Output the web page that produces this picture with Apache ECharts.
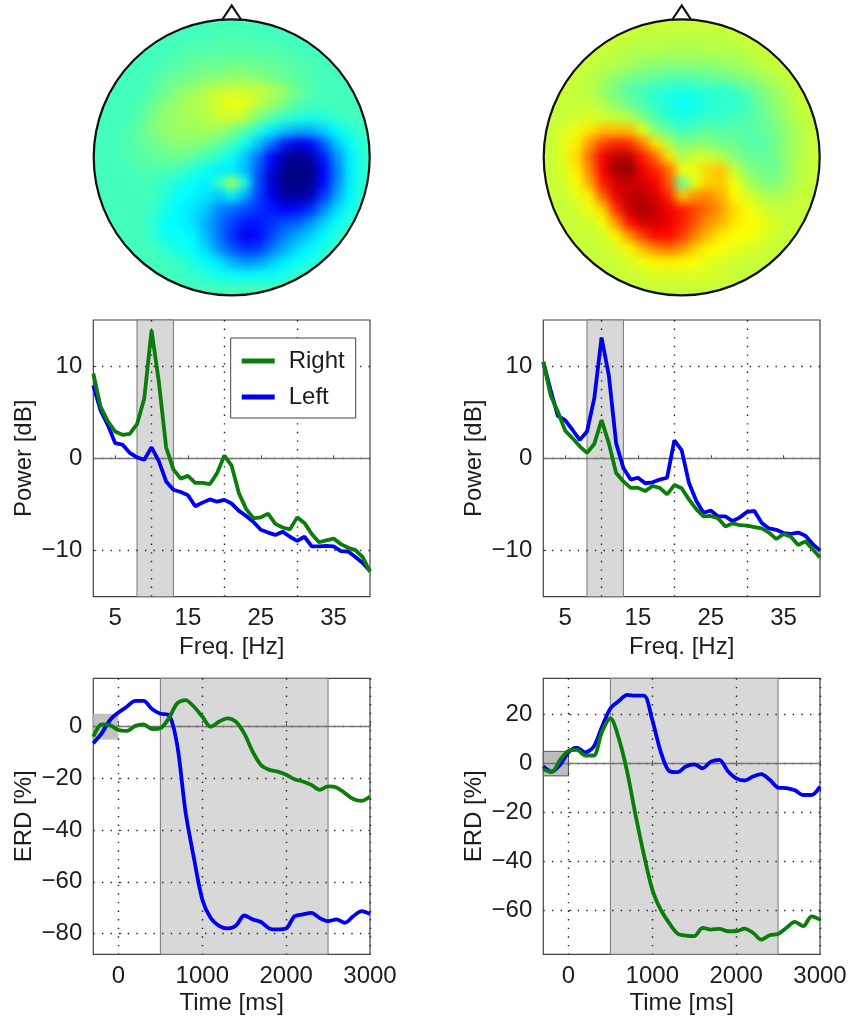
<!DOCTYPE html>
<html><head><meta charset="utf-8">
<style>
html,body{margin:0;padding:0;background:#fff;width:848px;height:1017px;overflow:hidden}
#main{position:absolute;left:0;top:0;width:848px;height:1017px;z-index:2}
.clip{position:absolute;z-index:1}
.heat{position:absolute;left:0;top:0;width:100%;height:100%;filter:blur(5px)}
</style>
<script src="https://cdn.jsdelivr.net/npm/echarts@6/dist/echarts.min.js"></script>
</head><body>
<div class="clip" id="clipL"><div class="heat" id="heatL"></div></div>
<div class="clip" id="clipR"><div class="heat" id="heatR"></div></div>
<div id="main"></div>
<script>
// ---------- data ----------
const freqs = [2,3,4,5,6,7,8,9,10,11,12,13,14,15,16,17,18,19,20,21,22,23,24,25,26,27,28,29,30,31,32,33,34,35,36,37,38,39,40];
const psdLeftRight = [9.2,5.6,4.0,2.9,2.55,2.65,3.7,6.5,13.9,8.3,1.2,-1.2,-2.2,-1.9,-2.65,-2.65,-2.8,-1.6,0.3,-0.8,-3.8,-5.5,-6.5,-6.4,-6.0,-7.1,-7.5,-7.7,-6.4,-7.0,-8.2,-9.1,-8.9,-8.7,-9.3,-9.7,-9.95,-10.7,-12.3];
const psdLeftLeft = [7.9,5.2,3.6,1.65,1.5,0.6,0.1,-0.15,1.2,-0.3,-2.5,-3.4,-3.65,-4.0,-5.2,-4.8,-4.45,-4.7,-4.5,-4.9,-5.7,-6.25,-6.9,-7.75,-8.05,-8.3,-7.95,-8.5,-8.95,-8.5,-9.55,-9.55,-9.5,-9.55,-10.05,-10.1,-10.7,-11.35,-12.2];
const psdRightLeft = [10.45,7.4,4.6,4.15,3.1,2.0,2.9,6.5,13.1,9.0,1.65,-1.05,-2.3,-2.1,-2.7,-2.6,-2.3,-2.1,1.95,0.9,-2.65,-4.6,-5.9,-5.65,-6.3,-6.3,-6.8,-6.4,-5.8,-5.7,-7.0,-7.6,-7.75,-8.1,-8.2,-8.05,-8.4,-9.3,-10.0];
const psdRightRight = [10.45,6.85,5.05,3.0,2.2,1.3,0.6,1.55,4.15,1.65,-1.6,-2.5,-3.2,-3.2,-3.55,-3.0,-3.2,-3.9,-2.9,-3.25,-4.45,-5.5,-6.3,-6.25,-6.5,-7.4,-7.05,-7.25,-7.3,-7.45,-7.6,-8.05,-8.75,-8.2,-8.5,-9.4,-9.0,-9.85,-10.75];

const times = [-300,-200,-100,0,100,200,300,400,500,600,700,800,900,1000,1100,1200,1300,1400,1500,1600,1700,1800,1900,2000,2100,2200,2300,2400,2500,2600,2700,2800,2900,3000];
const erdLeftLeft = [-6.4,-2.6,2.6,5.5,7.7,10,10,6.8,5,4.5,-7,-33,-50.8,-66.8,-74,-77,-78,-77,-73,-74.5,-75.5,-78,-78.4,-78,-73.3,-72.6,-72,-74,-75.2,-74.5,-75.8,-73.3,-71.3,-72.4];
const erdLeftRight = [-3.9,0.9,0.6,-1.3,-1.6,0.3,0.9,-0.9,-0.6,3.2,9,10.3,7.7,3.9,0,1.9,3.2,1.9,-2.6,-9.6,-14.8,-16.7,-17.4,-18.6,-20.3,-21.2,-22.5,-24.4,-23.1,-23.5,-25.7,-28,-28.7,-27];
const erdRightLeft = [-1.2,-3.3,-0.5,4.6,6.5,4.6,6.9,15,22.5,25.5,28,27.7,27.7,17.8,4.9,-3,-3.5,-1.2,-0.3,-1.9,0.8,1.5,-3,-6,-6.9,-5.3,-4.3,-6.6,-9.8,-10,-10.9,-12.8,-12.8,-9.4];
const erdRightRight = [-2.3,-3.5,1.5,5.2,5.6,3.3,3.3,13,18.5,10.3,-3.3,-20.9,-37.2,-51.4,-59.6,-65,-69.3,-70.2,-70.4,-67,-67.7,-67.4,-68.4,-68.4,-67.3,-69,-71.8,-70,-69.5,-67,-64.6,-66.3,-62.3,-63.6];

const psdBand = [8, 13];
const erdBand = [500, 2500];
const baseBand = [-300, 0, -5, 5];
const psdXLabels = [5,15,25,35];
const psdXGrid = [10,20,30];
const psdYTicks = [-10,0,10];
const erdXTicks = [0,1000,2000,3000];
const erdLeftYTicks = [-80,-60,-40,-20,0];
const erdRightYTicks = [-60,-40,-20,0,20];
const seriesNames = ['Right','Left'];

// scalp maps, 21 x 21 cells, front row first, read on a jet scale of 0-100
const topoLeft = [
[44,44,44,44,44,44,44,44,44,44,44,44,44,44,44,44,44,44,44,44,44],
[44,44,44,44,44,44,44,44,44,45,45,45,44,44,44,44,44,44,44,44,44],
[44,44,44,44,44,44,45,46,46,46,46,46,46,46,45,44,44,44,44,44,44],
[44,44,44,44,44,45,46,47,48,48,49,49,48,47,47,46,45,44,44,44,44],
[44,44,44,44,45,47,48,49,51,51,52,52,51,49,48,46,45,44,44,44,44],
[44,44,44,44,46,48,51,53,55,57,58,58,57,55,52,48,46,44,44,44,44],
[44,44,44,45,48,51,53,55,56,59,61,60,56,53,49,46,44,44,44,44,44],
[44,44,44,46,50,52,53,54,55,57,58,56,50,46,43,41,40,41,43,44,44],
[44,44,45,47,50,52,53,53,54,53,50,46,41,36,32,30,30,33,37,41,43],
[44,44,45,47,48,50,51,51,50,47,44,39,32,24,15,10,13,22,32,38,42],
[44,44,45,46,47,48,48,47,44,42,38,32,24,13,4,1,4,15,27,36,41],
[44,44,44,45,45,45,44,41,39,36,36,31,21,10,1,0,1,12,25,36,41],
[44,44,44,44,44,42,40,38,36,42,54,40,20,8,1,0,2,13,26,36,41],
[44,44,44,44,44,41,38,37,35,32,36,29,19,11,4,3,6,18,29,37,42],
[44,44,44,44,43,39,37,35,32,26,23,20,17,15,12,13,17,26,34,39,43],
[44,44,44,44,42,38,37,35,30,24,19,15,15,17,20,22,27,33,38,42,44],
[44,44,44,44,42,38,38,37,31,24,17,11,13,19,25,29,33,37,41,44,44],
[44,44,44,44,44,42,39,38,34,27,21,17,18,24,29,34,37,40,43,44,44],
[44,44,44,44,44,44,43,40,38,35,30,27,28,32,36,38,40,42,44,44,44],
[44,44,44,44,44,44,44,43,41,39,38,37,38,38,40,42,44,44,44,44,44],
[44,44,44,44,44,44,44,44,44,44,44,44,44,44,44,44,44,44,44,44,44]
];
const topoRight = [
[57,57,57,57,57,57,57,57,57,57,57,57,57,57,57,57,57,57,57,57,57],
[57,57,57,57,57,57,57,56,56,56,56,56,56,56,57,57,57,57,57,57,57],
[57,57,57,57,57,56,55,55,55,54,54,54,55,55,55,56,57,57,57,57,57],
[57,57,57,57,56,55,54,52,51,51,51,51,51,52,53,54,56,57,57,57,57],
[57,57,57,56,54,51,49,48,47,46,45,46,47,48,49,51,53,55,57,57,57],
[57,57,57,56,52,49,46,44,42,41,40,41,42,42,43,46,49,52,55,57,57],
[57,57,57,57,55,51,48,45,42,40,38,39,41,42,42,44,48,51,54,57,57],
[57,57,58,59,58,57,55,50,45,42,40,41,43,43,44,45,47,50,53,56,57],
[57,59,61,65,69,69,69,60,51,47,44,45,47,46,46,46,47,49,52,55,57],
[57,60,64,73,81,84,83,75,65,55,50,51,51,49,48,46,46,48,52,55,57],
[57,60,66,77,89,94,94,85,77,65,54,58,58,55,51,48,47,48,52,55,57],
[57,59,64,75,88,97,98,89,84,77,63,60,67,68,57,51,49,48,52,56,57],
[57,58,62,71,85,92,93,91,88,79,47,60,67,68,61,55,51,50,53,56,57],
[57,57,60,64,78,89,94,94,91,84,68,73,74,70,63,59,56,54,55,57,57],
[57,57,58,61,67,83,93,96,93,89,85,81,77,72,66,62,59,57,57,57,57],
[57,57,57,58,62,73,86,92,92,89,85,79,73,70,65,63,61,59,57,57,57],
[57,57,57,57,58,63,73,82,87,87,82,75,69,64,62,62,60,58,57,57,57],
[57,57,57,57,57,59,63,69,74,76,73,67,63,62,60,59,58,57,57,57,57],
[57,57,57,57,57,57,59,61,63,64,63,62,60,59,58,57,57,57,57,57,57],
[57,57,57,57,57,57,57,58,59,59,59,59,59,58,57,57,57,57,57,57,57],
[57,57,57,57,57,57,57,57,57,57,57,57,57,57,57,57,57,57,57,57,57]
];
const jetColors = ['#00007f','#0000ff','#007fff','#00ffff','#7fff7f','#ffff00','#ff7f00','#ff0000','#7f0000'];
const headX = [-0.07,0,0.07];
const headY = [0.995,1.1,0.995];

// ---------- scalp maps ----------
function drawHeat(id, clipId, rows, cx, bg){
  const R = 138, cy = 157.3, pad = 24;
  const size = 2*R + 2*pad;
  const clip = document.getElementById(clipId);
  clip.style.left = (cx-R-pad)+'px'; clip.style.top = (cy-R-pad)+'px';
  clip.style.width = size+'px'; clip.style.height = size+'px';
  clip.style.clipPath = 'circle('+R+'px at '+(R+pad)+'px '+(R+pad)+'px)';
  const idx = rows.map((_,i)=>i);
  const cells = [];
  rows.forEach((r,j)=>r.forEach((v,i)=>cells.push([i,j,v])));
  const c = echarts.init(document.getElementById(id));
  c.setOption({
    animation:false, backgroundColor:bg,
    grid:{left:pad,top:pad,width:2*R,height:2*R,outerBoundsMode:'none'},
    xAxis:{type:'category',data:idx,show:false},
    yAxis:{type:'category',data:idx,inverse:true,show:false},
    visualMap:{show:false,min:0,max:100,inRange:{color:jetColors},calculable:false},
    series:[{type:'heatmap',data:cells,itemStyle:{borderWidth:0},progressive:0}]
  });
}
drawHeat('heatL','clipL',topoLeft,231.7,'#42ffbd');
drawHeat('heatR','clipR',topoRight,681.7,'#c7ff38');

// ---------- panels ----------
const GREEN='#0a7d0a', BLUE='#0000f0', TXT='#1c1c1c', FS=24, FONT='"Liberation Sans",Arial,sans-serif';
const grids=[], xAxes=[], yAxes=[], series=[];
const fmt = v => String(v).replace('-','\u2212');
const dots = {show:true,lineStyle:{color:'#222',width:1.4,type:[1.4,7.2]}};
function addPanel(o){
  const g = grids.length;
  grids.push({left:o.x,top:o.y,width:276.7,height:o.h,show:true,borderColor:'#444',borderWidth:1.2,backgroundColor:'transparent',outerBoundsMode:'none'});
  const xi = xAxes.length, yi = yAxes.length;
  const xBase = {type:'value',gridIndex:g,min:o.xr[0],max:o.xr[1],z:1.5};
  xAxes.push(Object.assign({},xBase,{
    name:o.xName,nameLocation:'middle',nameGap:o.xNameGap,nameTextStyle:{fontSize:FS,color:TXT,fontFamily:FONT},
    axisLine:{show:false},
    axisTick:{show:true,inside:true,length:3,lineStyle:{color:'#444'},customValues:o.xLabels},
    axisLabel:{customValues:o.xLabels,formatter:fmt,fontSize:FS,color:TXT,fontFamily:FONT,margin:o.xMargin,showMinLabel:true,showMaxLabel:true,hideOverlap:false},
    splitLine:o.xGrid?{show:false}:dots
  }));
  if(o.xGrid){
    xAxes.push(Object.assign({},xBase,{
      axisLine:{show:false},axisLabel:{show:false},
      axisTick:{show:false,customValues:o.xGrid},splitLine:dots
    }));
  }
  yAxes.push({type:'value',gridIndex:g,min:o.yr[0],max:o.yr[1],z:1.5,
    name:o.yName,nameLocation:'middle',nameGap:o.nameGap,nameRotate:90,nameTextStyle:{fontSize:FS,color:TXT,fontFamily:FONT},
    axisLine:{show:false},
    axisTick:{show:true,inside:true,length:3,lineStyle:{color:'#444'},customValues:o.yTicks},
    axisLabel:{customValues:o.yTicks,formatter:fmt,fontSize:FS,color:TXT,fontFamily:FONT,margin:11},
    splitLine:dots
  });
  const areas = [[{xAxis:o.band[0],itemStyle:{color:'#d8d8d8',borderColor:'#777',borderWidth:1}},{xAxis:o.band[1]}]];
  if(o.base) areas.push([{xAxis:o.base[0],yAxis:o.base[2],itemStyle:{color:o.baseColor,borderColor:o.baseBorder,borderWidth:1}},{xAxis:o.base[1],yAxis:o.base[3]}]);
  const common = {type:'line',xAxisIndex:xi,yAxisIndex:yi,showSymbol:false,symbol:'none',z:5,silent:true,animation:false,smooth:o.smooth};
  series.push(Object.assign({},common,{name:'Left',data:o.xs.map((x,i)=>[x,o.left[i]]),lineStyle:{color:BLUE,width:3.8},itemStyle:{color:BLUE},
    markArea:{silent:true,z:1,data:areas},
    markLine:{silent:true,z:3,symbol:'none',label:{show:false},lineStyle:{color:'#777',width:1.3,type:'solid'},data:[{yAxis:0}]}
  }));
  series.push(Object.assign({},common,{name:'Right',data:o.xs.map((x,i)=>[x,o.right[i]]),lineStyle:{color:GREEN,width:3.8},itemStyle:{color:GREEN}}));
}
const xP=[93.3,543.3];
const psdCommon={y:320,h:276.7,xr:[2,40],yr:[-15,15],xName:'Freq. [Hz]',yName:'Power [dB]',nameGap:57,xNameGap:39,xMargin:10,xLabels:psdXLabels,xGrid:psdXGrid,yTicks:psdYTicks,band:psdBand,xs:freqs};
const erdCommon={y:678.3,h:276,xr:[-300,3000],xName:'Time [ms]',yName:'ERD [%]',nameGap:57,xNameGap:37.5,xMargin:10.5,xLabels:erdXTicks,band:erdBand,base:baseBand,xs:times,smooth:0.3};
addPanel(Object.assign({},psdCommon,{x:xP[0],left:psdLeftLeft,right:psdLeftRight}));
addPanel(Object.assign({},psdCommon,{x:xP[1],left:psdRightLeft,right:psdRightRight}));
addPanel(Object.assign({},erdCommon,{x:xP[0],yr:[-88,18.7],yTicks:erdLeftYTicks,baseColor:'#c2c2c2',baseBorder:'transparent',left:erdLeftLeft,right:erdLeftRight}));
addPanel(Object.assign({},erdCommon,{x:xP[1],yr:[-77.8,34.8],yTicks:erdRightYTicks,baseColor:'#bdbdbd',baseBorder:'#555',left:erdRightLeft,right:erdRightRight}));

// head outlines, drawn through their own unit axes
function addHead(cx){
  const g = grids.length, half = 138*1.1;
  grids.push({left:cx-half,top:157.3-half,width:2*half,height:2*half,show:false,outerBoundsMode:'none'});
  const xi=xAxes.length, yi=yAxes.length;
  xAxes.push({type:'value',gridIndex:g,min:-1.1,max:1.1,show:false});
  yAxes.push({type:'value',gridIndex:g,min:-1.1,max:1.1,show:false});
  series.push({type:'custom',xAxisIndex:xi,yAxisIndex:yi,silent:true,clip:false,z:6,data:[[0,0,1]],
    renderItem:(p,api)=>{
      const c = api.coord([api.value(0),api.value(1)]);
      const r = api.size([api.value(2),0])[0];
      const st = {fill:null,stroke:'#111',lineWidth:2.2};
      return {type:'group',children:[
        {type:'circle',shape:{cx:c[0],cy:c[1],r:r},style:st},
        {type:'polyline',shape:{points:headX.map((x,i)=>api.coord([x,headY[i]]))},style:st}
      ]};
    }});
}
addHead(231.7); addHead(681.7);

const chart = echarts.init(document.getElementById('main'));
chart.setOption({
  animation:false,
  backgroundColor:'transparent',
  grid:grids,xAxis:xAxes,yAxis:yAxes,series:series,
  legend:{data:seriesNames,orient:'vertical',left:230.7,top:338,
    padding:[11,11,9,11],itemGap:12,itemWidth:33,itemHeight:5,icon:'rect',
    backgroundColor:'#fff',borderColor:'#444',borderWidth:1,selectedMode:false,
    textStyle:{fontSize:FS,color:TXT,fontFamily:FONT,padding:[3,0,3,9]},z:10}
});
</script>
</body></html>
